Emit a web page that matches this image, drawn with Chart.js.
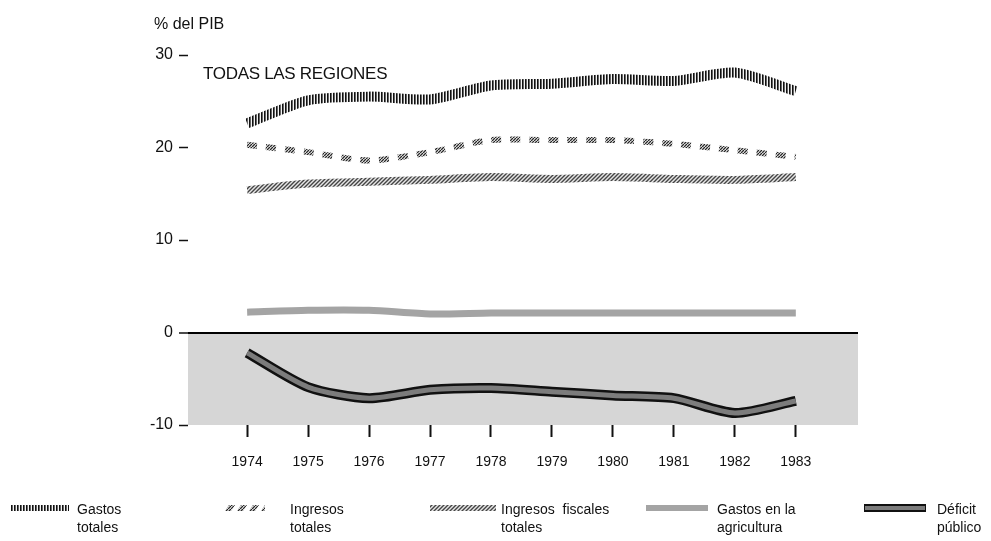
<!DOCTYPE html>
<html>
<head>
<meta charset="utf-8">
<script src="https://cdn.jsdelivr.net/npm/chart.js@4.4.1/dist/chart.umd.min.js"></script>
<style>
  body { margin: 0; background: #fff; }
  #wrap { position: relative; width: 991px; height: 541px; font-family: "Liberation Sans", Arial, sans-serif; color: #111; }
  #chart { position: absolute; left: 0; top: 0; }
  .lbl { position: absolute; white-space: nowrap; }
  .leg { position: absolute; font-size: 14px; line-height: 18px; }
  .sw { position: absolute; }
</style>
</head>
<body>
<div id="wrap">
  <canvas id="chart" width="991" height="541"></canvas>
  <div class="lbl" style="left:154px; top:15px; font-size:16px;">% del PIB</div>
  <div class="lbl" style="left:203px; top:64px; font-size:17px; letter-spacing:-0.3px;">TODAS LAS REGIONES</div>

  <canvas class="sw" id="sw0" width="58" height="10" style="left:11px; top:503px;"></canvas>
  <div class="leg" style="left:77px; top:500px;">Gastos<br>totales</div>
  <canvas class="sw" id="sw1" width="40" height="10" style="left:225px; top:503px;"></canvas>
  <div class="leg" style="left:290px; top:500px;">Ingresos<br>totales</div>
  <canvas class="sw" id="sw2" width="66" height="10" style="left:430px; top:503px;"></canvas>
  <div class="leg" style="left:501px; top:500px; word-spacing:4px;">Ingresos fiscales<br>totales</div>
  <canvas class="sw" id="sw3" width="62" height="10" style="left:646px; top:503px;"></canvas>
  <div class="leg" style="left:717px; top:500px;">Gastos en la<br>agricultura</div>
  <canvas class="sw" id="sw4" width="62" height="10" style="left:864px; top:503px;"></canvas>
  <div class="leg" style="left:937px; top:500px;">Déficit<br>público</div>
</div>
<script>
// Años y series (% del PIB)
const years = [1974, 1975, 1976, 1977, 1978, 1979, 1980, 1981, 1982, 1983];
const gastosTotales = [22.6, 25.1, 25.5, 25.2, 26.7, 26.9, 27.4, 27.2, 28.1, 26.1];
const ingresosTotales = [20.3, 19.5, 18.6, 19.5, 20.8, 20.8, 20.8, 20.4, 19.7, 19.0];
const ingresosFiscales = [15.4, 16.1, 16.3, 16.5, 16.8, 16.6, 16.8, 16.6, 16.5, 16.8];
const gastosAgricultura = [2.2, 2.4, 2.4, 2.0, 2.1, 2.1, 2.1, 2.1, 2.1, 2.1];
const deficitPublico = [-2.2, -5.9, -7.1, -6.2, -6.0, -6.4, -6.8, -7.1, -8.7, -7.4];
const yTicks = [-10, 0, 10, 20, 30];

const ctx = document.getElementById('chart').getContext('2d');

// motivos de relleno para las bandas
function makePattern(g, kind) {
  const c = document.createElement('canvas');
  const pg = c.getContext('2d');
  if (kind === 'vertical') {
    c.width = 3; c.height = 3;
    pg.fillStyle = '#f4f4f4'; pg.fillRect(0, 0, 3, 3);
    pg.fillStyle = '#111'; pg.fillRect(0, 0, 1, 3);
    pg.fillStyle = '#666'; pg.fillRect(1, 0, 1, 3);
  } else if (kind === 'diag') {
    c.width = 4; c.height = 4;
    pg.fillStyle = '#e6e6e6'; pg.fillRect(0, 0, 4, 4);
    pg.strokeStyle = '#444'; pg.lineWidth = 1.4;
    pg.beginPath();
    pg.moveTo(-1, 5); pg.lineTo(5, -1);
    pg.moveTo(-1, 1); pg.lineTo(1, -1);
    pg.moveTo(3, 5); pg.lineTo(5, 3);
    pg.stroke();
  } else {
    c.width = 3; c.height = 3;
    pg.fillStyle = '#d8d8d8'; pg.fillRect(0, 0, 3, 3);
    pg.strokeStyle = '#222'; pg.lineWidth = 1.2;
    pg.beginPath(); pg.moveTo(-1, 4); pg.lineTo(4, -1); pg.stroke();
  }
  return g.createPattern(c, 'repeat');
}

function pts(values) {
  return years.map((y, i) => ({ x: y, y: values[i] }));
}

// zona negativa sombreada
const shadeNegative = {
  id: 'shadeNegative',
  beforeDraw(chart) {
    const a = chart.chartArea;
    const y0 = chart.scales.y.getPixelForValue(0);
    const c = chart.ctx;
    c.save();
    c.fillStyle = '#d6d6d6';
    c.fillRect(a.left, y0, a.right - a.left, a.bottom - y0);
    c.restore();
  }
};

const common = {
  pointRadius: 0,
  fill: false,
  tension: 0.25,
  borderCapStyle: 'butt',
  borderJoinStyle: 'round'
};

new Chart(ctx, {
  type: 'line',
  data: {
    datasets: [
      { ...common, label: 'Gastos totales', data: pts(gastosTotales), borderColor: makePattern(ctx, 'vertical'), borderWidth: 10 },
      { ...common, label: 'Ingresos totales', data: pts(ingresosTotales), borderColor: makePattern(ctx, 'diagDark'), borderWidth: 6, borderDash: [10, 9] },
      { ...common, label: 'Ingresos fiscales totales', data: pts(ingresosFiscales), borderColor: makePattern(ctx, 'diag'), borderWidth: 8 },
      { ...common, label: 'Gastos en la agricultura', data: pts(gastosAgricultura), borderColor: '#a4a4a4', borderWidth: 7 },
      // el primer dataset se dibuja encima: interior gris antes que el borde negro
      { ...common, label: 'Déficit público (interior)', data: pts(deficitPublico), borderColor: '#7c7c7c', borderWidth: 5 },
      { ...common, label: 'Déficit público', data: pts(deficitPublico), borderColor: '#111', borderWidth: 10 }
    ]
  },
  options: {
    responsive: false,
    animation: false,
    layout: { padding: { top: 55, right: 133, bottom: 0, left: 0 } },
    plugins: {
      legend: { display: false },
      tooltip: { enabled: false }
    },
    scales: {
      x: {
        type: 'linear',
        min: 1973.03,
        max: 1984.02,
        afterBuildTicks: (scale) => { scale.ticks = years.map(v => ({ value: v })); },
        afterFit: (scale) => { scale.height = 116; },
        border: { display: false },
        grid: { drawOnChartArea: false, tickLength: 12, tickWidth: 2, tickColor: '#111' },
        ticks: {
          padding: 17,
          color: '#111',
          font: { family: 'Liberation Sans', size: 14 },
          callback: (v) => String(v)
        }
      },
      y: {
        min: -10,
        max: 30,
        afterBuildTicks: (scale) => { scale.ticks = yTicks.map(v => ({ value: v })); },
        afterFit: (scale) => { scale.width = 188; },
        border: { display: false },
        grid: {
          color: (c) => c.tick && c.tick.value === 0 ? '#000' : 'rgba(0,0,0,0)',
          lineWidth: (c) => c.tick && c.tick.value === 0 ? 2 : 1,
          tickColor: '#111',
          tickLength: 9,
          tickWidth: 1.5
        },
        ticks: {
          padding: 6,
          color: '#111',
          font: { family: 'Liberation Sans', size: 16 },
          callback: (v) => String(v)
        }
      }
    }
  },
  plugins: [shadeNegative]
});

// muestras de la leyenda, con los mismos motivos
function swatch(id, draw) {
  const c = document.getElementById(id);
  draw(c.getContext('2d'), c.width, c.height);
}

swatch('sw0', (g, w) => {
  g.fillStyle = makePattern(g, 'vertical');
  g.fillRect(0, 2, w, 6);
});
swatch('sw1', (g, w) => {
  g.fillStyle = makePattern(g, 'diagDark');
  for (let x = 0; x < w; x += 12) {
    g.beginPath();
    g.moveTo(x, 8); g.lineTo(x + 4, 2); g.lineTo(x + 10, 2); g.lineTo(x + 6, 8);
    g.closePath();
    g.fill();
  }
});
swatch('sw2', (g, w) => {
  g.fillStyle = makePattern(g, 'diag');
  g.fillRect(0, 2, w, 6);
});
swatch('sw3', (g, w) => {
  g.fillStyle = '#a4a4a4';
  g.fillRect(0, 2, w, 6);
});
swatch('sw4', (g, w) => {
  g.fillStyle = '#111';
  g.fillRect(0, 1, w, 8);
  g.fillStyle = '#7c7c7c';
  g.fillRect(1, 3, w - 2, 4);
});
</script>
</body>
</html>
